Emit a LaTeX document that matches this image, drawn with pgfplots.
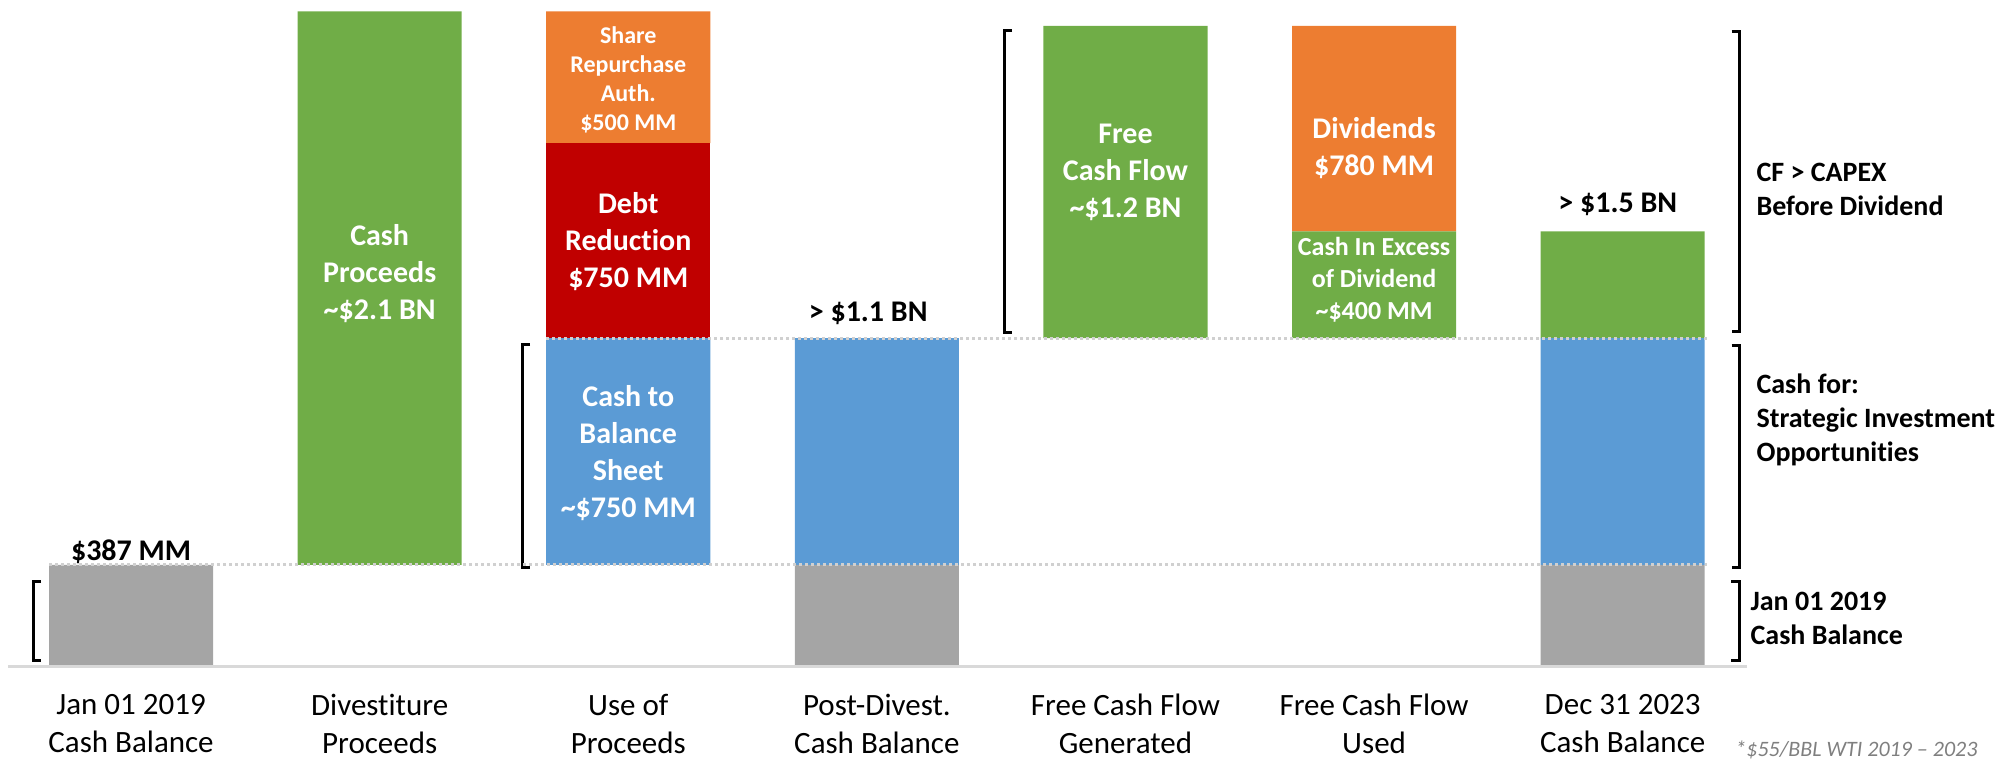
\documentclass[border=0pt]{standalone}
\usepackage{fontspec}
\setmainfont[Ligatures=NoCommon]{Carlito}
\usepackage{pgfplots}
\pgfplotsset{compat=1.18}
\definecolor{cgreen}{HTML}{70AD47}
\definecolor{corange}{HTML}{ED7D31}
\definecolor{cred}{HTML}{C00000}
\definecolor{cblue}{HTML}{5B9BD5}
\definecolor{cgray}{HTML}{A5A5A5}
\definecolor{cline}{HTML}{D9D9D9}
\definecolor{cdot}{HTML}{D0D0D0}
\definecolor{cnote}{HTML}{7F7F7F}
\tikzset{
  lab/.style={text=white, align=center, inner sep=0pt, font=\bfseries\fontsize{15}{18.5}\selectfont},
  labs/.style={text=white, align=center, inner sep=0pt, font=\bfseries\fontsize{12}{14.5}\selectfont},
  labm/.style={text=white, align=center, inner sep=0pt, font=\bfseries\fontsize{13}{16}\selectfont},
  toplab/.style={text=black, align=center, inner sep=0pt, font=\bfseries\fontsize{15}{18.5}\selectfont},
  sidelab/.style={text=black, align=left, anchor=west, inner sep=0pt, font=\bfseries\fontsize{14}{17}\selectfont},
  brk/.style={line width=1.5pt, black},
}
\begin{document}
\begin{tikzpicture}
\useasboundingbox (0,0) rectangle (1007.5pt,380pt);
\begin{axis}[
  at={(5pt,46.5pt)}, anchor=south west,
  scale only axis, width=867.5pt, height=333.5pt,
  xmin=-0.487, xmax=6.492, ymin=0, ymax=2530,
  ybar stacked, bar width=0.66,
  axis line style={draw=none},
  major tick length=0pt,
  ytick=\empty,
  xtick={0,1,2,3,4,5,6},
  xticklabels={{Jan 01 2019\\Cash Balance},{Divestiture\\Proceeds},{Use of\\Proceeds},{Post-Divest.\\Cash Balance},{Free Cash Flow\\Generated},{Free Cash Flow\\Used},{Dec 31 2023\\Cash Balance}},
  xticklabel style={align=center, anchor=center, yshift=-28.5pt, font=\fontsize{15.5}{19}\selectfont},
  clip=false,
  after end axis/.code={
    % baseline and dotted guide lines
    \draw[cline, line width=1.5pt] (axis cs:-0.495,0) -- (axis cs:6.50,0);
    \draw[cdot, line width=1.5pt, dash pattern=on 1.5pt off 1.5pt] (axis cs:-0.33,387) -- (axis cs:6.34,387);
    \draw[cdot, line width=1.5pt, dash pattern=on 1.5pt off 1.5pt] (axis cs:1.67,1247) -- (axis cs:6.34,1247);
    % labels inside bars
    \node[lab] at (axis cs:1,1491) {Cash\\Proceeds\\\textasciitilde\$2.1 BN};
    \node[labs] at (axis cs:2,2227) {Share\\Repurchase\\Auth.\\\$500 MM};
    \node[lab] at (axis cs:2,1612) {Debt\\Reduction\\\$750 MM};
    \node[lab] at (axis cs:2,812) {Cash to\\Balance\\Sheet\\\textasciitilde\$750 MM};
    \node[lab] at (axis cs:4,1878) {Free\\Cash Flow\\\textasciitilde\$1.2 BN};
    \node[lab] at (axis cs:5,1969) {Dividends\\\$780 MM};
    \node[labm] at (axis cs:5,1468) {Cash In Excess\\of Dividend\\\textasciitilde\$400 MM};
  },
]
% gray base
\addplot[fill=cgray, draw=none] coordinates {(0,387) (1,0) (2,0) (3,387) (4,0) (5,0) (6,387)};
% invisible offsets
\addplot[fill=none, draw=none] coordinates {(0,0) (1,387) (2,387) (3,0) (4,1247) (5,1247) (6,0)};
% blue
\addplot[fill=cblue, draw=none] coordinates {(0,0) (1,0) (2,860) (3,860) (4,0) (5,0) (6,860)};
% green
\addplot[fill=cgreen, draw=none] coordinates {(0,0) (1,2100) (2,0) (3,0) (4,1185) (5,405) (6,405)};
% red
\addplot[fill=cred, draw=none] coordinates {(0,0) (1,0) (2,740) (3,0) (4,0) (5,0) (6,0)};
% orange
\addplot[fill=corange, draw=none] coordinates {(0,0) (1,0) (2,500) (3,0) (4,0) (5,780) (6,0)};

% brackets
\draw[brk] (axis cs:-0.362,326) -- (axis cs:-0.394,326) -- (axis cs:-0.394,23) -- (axis cs:-0.362,23);
\draw[brk] (axis cs:1.605,1222) -- (axis cs:1.573,1222) -- (axis cs:1.573,376) -- (axis cs:1.605,376);
\draw[brk] (axis cs:3.544,2413) -- (axis cs:3.512,2413) -- (axis cs:3.512,1267) -- (axis cs:3.544,1267);
\draw[brk] (axis cs:6.438,2409) -- (axis cs:6.470,2409) -- (axis cs:6.470,1271) -- (axis cs:6.438,1271);
\draw[brk] (axis cs:6.438,1218) -- (axis cs:6.470,1218) -- (axis cs:6.470,376) -- (axis cs:6.438,376);
\draw[brk] (axis cs:6.436,326) -- (axis cs:6.468,326) -- (axis cs:6.468,23) -- (axis cs:6.436,23);

% labels above bars
\node[toplab] at (axis cs:0,436) {\$387 MM};
\node[toplab] at (axis cs:2.965,1343) {> \$1.1 BN};
\node[toplab] at (axis cs:5.98,1753) {> \$1.5 BN};

% side annotations
\node[sidelab] at (axis cs:6.537,1813) {CF > CAPEX\\Before Dividend};
\node[sidelab] at (axis cs:6.537,937) {Cash for:\\Strategic Investment\\Opportunities};
\node[sidelab] at (axis cs:6.513,186) {Jan 01 2019\\Cash Balance};

% footnote
\node[anchor=west, inner sep=0pt, text=cnote, font=\itshape\fontsize{11}{13}\selectfont] at (axis cs:6.452,-315) {*\$55/BBL WTI 2019 -- 2023};
\end{axis}
\end{tikzpicture}
\end{document}
